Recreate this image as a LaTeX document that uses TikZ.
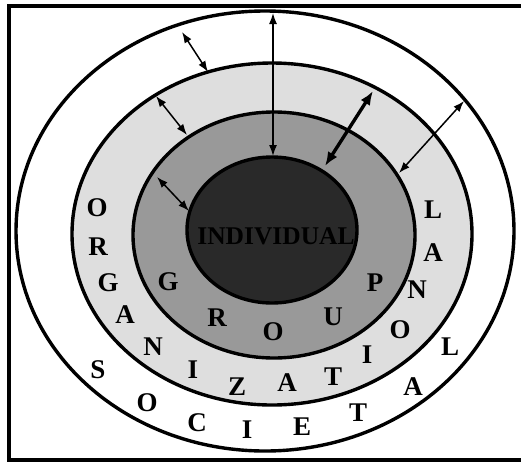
\documentclass[tikz,border=0pt]{standalone}
\usepackage{fontspec}
\setmainfont{Liberation Serif}
\usetikzlibrary{arrows.meta}
\definecolor{indfill}{gray}{0.16}
\definecolor{grpfill}{gray}{0.60}
\definecolor{orgfill}{gray}{0.87}
\tikzset{
  ring/.style={draw=black, line width=3.4pt},
  frameline/.style={draw=black, line width=3.2pt},
  lnk/.style={{Latex[length=11pt,width=8pt]}-{Latex[length=11pt,width=8pt]}, line width=1.5pt},
  lnkthick/.style={{Latex[length=14pt,width=11pt]}-{Latex[length=14pt,width=11pt]}, line width=3.4pt},
  letter/.style={font=\bfseries\fontsize{27}{27}\selectfont, inner sep=0pt},
  indlabel/.style={font=\bfseries\fontsize{25.5}{25.5}\selectfont, inner sep=0pt, text=black}
}
\begin{document}
\begin{tikzpicture}[x=1pt,y=-1pt]
\useasboundingbox (0,0) rectangle (521,464);
\fill[white] (0,0) rectangle (521,464);
% frame (right side cut off)
\draw[frameline] (523,6) -- (9,6) -- (9,460) -- (523,460);
% rings
\draw[ring, fill=white] (265,231) ellipse [x radius=249, y radius=220];
\draw[ring, fill=orgfill] (272,234) ellipse [x radius=200, y radius=171];
\draw[ring, fill=grpfill] (274,235) ellipse [x radius=141, y radius=123];
\draw[ring, fill=indfill] (272,230) ellipse [x radius=85, y radius=73];
% arrow end points
\coordinate (v1) at (273,13);
\coordinate (v2) at (273,156);
\coordinate (a1) at (182,32);
\coordinate (a2) at (208,72);
\coordinate (b1) at (156,96);
\coordinate (b2) at (187,135);
\coordinate (c1) at (157,177);
\coordinate (c2) at (189,211);
\coordinate (d1) at (373,91);
\coordinate (d2) at (325,166);
\coordinate (e1) at (464,101);
\coordinate (e2) at (399,173);
\draw[lnk] (v1) -- (v2);
\draw[lnk] (a1) -- (a2);
\draw[lnk] (b1) -- (b2);
\draw[lnk] (c1) -- (c2);
\draw[lnkthick] (d1) -- (d2);
\draw[lnk] (e1) -- (e2);
% INDIVIDUAL
\node[indlabel] (ind) at (276,236) {INDIVIDUAL};
% GROUP
\node[letter] (g1) at (168,282) {G};
\node[letter] (g2) at (217,318) {R};
\node[letter] (g3) at (273,332) {O};
\node[letter] (g4) at (333,317) {U};
\node[letter] (g5) at (375,283) {P};
% ORGANIZATIONAL
\node[letter] (o1) at (97,208) {O};
\node[letter] (o2) at (98,247) {R};
\node[letter] (o3) at (108,283) {G};
\node[letter] (o4) at (125,315) {A};
\node[letter] (o5) at (153,347) {N};
\node[letter] (o6) at (193,370) {I};
\node[letter] (o7) at (237,387) {Z};
\node[letter] (o8) at (287,383) {A};
\node[letter] (o9) at (333,377) {T};
\node[letter] (o10) at (367,355) {I};
\node[letter] (o11) at (400,330) {O};
\node[letter] (o12) at (417,290) {N};
\node[letter] (o13) at (433,253) {A};
\node[letter] (o14) at (433,210) {L};
% SOCIETAL
\node[letter] (s1) at (98,370) {S};
\node[letter] (s2) at (147,403) {O};
\node[letter] (s3) at (197,423) {C};
\node[letter] (s4) at (247,430) {I};
\node[letter] (s5) at (302,427) {E};
\node[letter] (s6) at (358,413) {T};
\node[letter] (s7) at (413,387) {A};
\node[letter] (s8) at (450,347) {L};
\end{tikzpicture}
\end{document}
